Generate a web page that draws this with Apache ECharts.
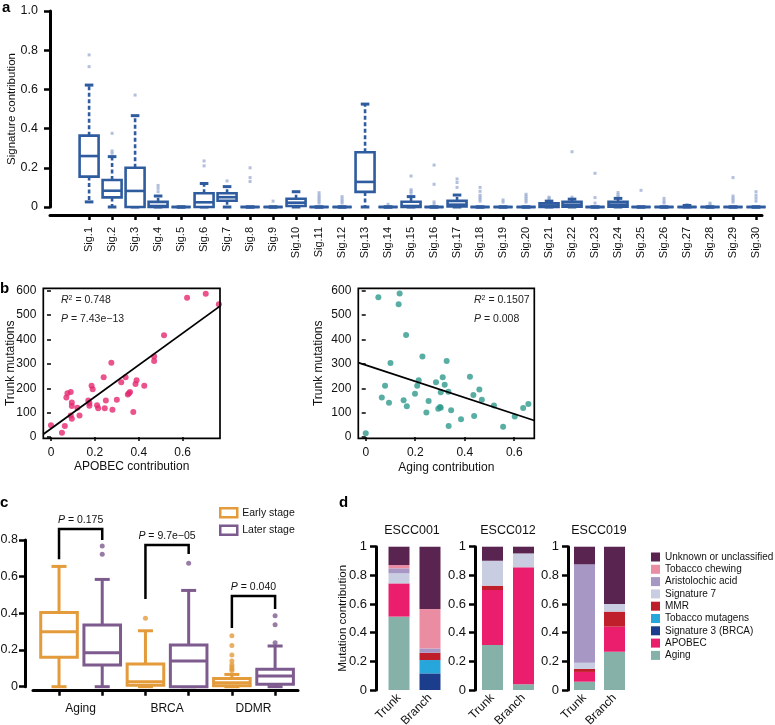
<!DOCTYPE html>
<html><head><meta charset="utf-8">
<script src="https://cdn.jsdelivr.net/npm/echarts@6/dist/echarts.min.js"></script>
<style>html,body{margin:0;padding:0;background:#fff}#c{width:775px;height:725px}</style>
</head><body><div id="c"></div>
<script>
const FONT = '"Liberation Sans", Arial, Helvetica, sans-serif';

// ---------- Panel a ----------
const sigLabels = ['Sig.1','Sig.2','Sig.3','Sig.4','Sig.5','Sig.6','Sig.7','Sig.8','Sig.9','Sig.10',
  'Sig.11','Sig.12','Sig.13','Sig.14','Sig.15','Sig.16','Sig.17','Sig.18','Sig.19','Sig.20',
  'Sig.21','Sig.22','Sig.23','Sig.24','Sig.25','Sig.26','Sig.27','Sig.28','Sig.29','Sig.30'];
const sigPositions = [1,2,3,4,5,6,7,8,9,10,11,12,13,14,15,16,17,18,19,20,21,22,23,24,25,26,27,28,29,30];
// [lower whisker, Q1, median, Q3, upper whisker]
const sigBoxes = [
  [0.026,0.155,0.26,0.364,0.622],[0,0.049,0.083,0.138,0.257],[0,0,0.082,0.2,0.466],[0,0,0.005,0.026,0.056],
  [0,0,0,0,0],[0,0,0.024,0.07,0.12],[0,0.032,0.05,0.07,0.104],[0,0,0,0,0],[0,0,0,0,0],
  [0,0.005,0.022,0.042,0.078],[0,0,0,0,0],[0,0,0,0,0],[0,0.077,0.128,0.279,0.525],[0,0,0,0,0],
  [0,0,0.005,0.027,0.053],[0,0,0,0,0],[0,0.003,0.012,0.031,0.061],[0,0,0,0,0],[0,0,0,0,0],
  [0,0,0,0,0],[0,0,0.008,0.019,0.03],[0,0.002,0.012,0.027,0.04],[0,0,0,0,0],[0,0.002,0.012,0.026,0.044],
  [0,0,0,0,0],[0,0,0,0,0],[0,0,0,0,0.008],[0,0,0,0,0],[0,0,0,0,0],[0,0,0,0,0]
];
const sigOutliers = [
  [1,0.776],[1,0.716],[2,0.376],[2,0.286],[2,0.274],[3,0.571],[4,0.11],[4,0.095],[4,0.078],
  [6,0.235],[6,0.21],[7,0.133],[8,0.2],[8,0.15],[8,0.13],[9,0.03],
  [11,0.073],[11,0.06],[11,0.05],[11,0.04],[11,0.03],[11,0.02],[12,0.053],[12,0.04],[12,0.03],[12,0.02],
  [14,0.014],[15,0.158],[15,0.088],[15,0.08],[15,0.07],[16,0.214],[16,0.116],[16,0.026],[16,0.015],
  [17,0.143],[17,0.125],[17,0.1],[18,0.1],[18,0.08],[18,0.06],[18,0.05],[18,0.04],[18,0.03],
  [19,0.036],[19,0.025],[20,0.065],[20,0.055],[20,0.045],[20,0.035],[20,0.025],
  [21,0.05],[21,0.045],[21,0.04],[22,0.282],[22,0.05],[23,0.172],[23,0.048],[23,0.02],
  [24,0.074],[24,0.062],[24,0.055],[25,0.085],[26,0.044],[26,0.03],[26,0.02],[27,0.012],
  [28,0.02],[28,0.012],[29,0.15],[29,0.056],[29,0.045],[29,0.035],[29,0.025],
  [30,0.078],[30,0.06],[30,0.045],[30,0.03]
];
// the x scale of panel a is shifted so that 0 is not inside its range
const SIG_SHIFT = 10;
const SIG_XMIN = SIG_SHIFT - 0.7, SIG_XMAX = SIG_SHIFT + 30.26;

// ---------- Panel b ----------
const apobecPoints = [[0.00,48],[0.05,18],[0.063,45],[0.07,162],[0.075,180],[0.09,185],[0.095,142],[0.095,127],
  [0.095,75],[0.09,88],[0.12,120],[0.13,88],[0.17,150],[0.175,128],[0.175,140],[0.185,210],[0.19,196],
  [0.21,130],[0.215,118],[0.24,245],[0.245,118],[0.25,150],[0.275,305],[0.28,112],[0.30,153],[0.32,225],
  [0.34,245],[0.35,175],[0.36,185],[0.355,180],[0.375,103],[0.385,218],[0.39,233],[0.425,210],[0.47,330],
  [0.47,312],[0.515,418],[0.62,571],[0.705,588],[0.765,545]];
const apobecFit = [[-0.035,12],[0.77,537]];
const agingPoints = [[0,16],[0.051,573],[0.065,162],[0.078,210],[0.094,141],[0.1,304],[0.133,545],[0.137,589],
  [0.153,151],[0.163,419],[0.166,126],[0.199,178],[0.208,210],[0.214,233],[0.229,330],[0.245,101],[0.254,148],
  [0.284,225],[0.293,116],[0.30,123],[0.303,120],[0.303,184],[0.311,245],[0.319,215],[0.327,312],[0.334,186],
  [0.335,45],[0.345,110],[0.385,73],[0.421,247],[0.435,173],[0.438,86],[0.459,195],[0.469,153],[0.518,129],
  [0.555,42],[0.602,84],[0.636,119],[0.657,136]];
const agingFit = [[-0.03,305],[0.681,68]];
const bYTicks = [0,100,200,300,400,500,600];
const bXTicks = [0,0.2,0.4,0.6];
const bLeftRange = [-0.035,-5,0.77,610];
const bRightRange = [-0.03,-5,0.681,610];

// ---------- Panel c ----------
const cGroups = ['Aging','BRCA','DDMR'];
const cGroupPos = [1.5,3.5,5.5];
const cBoxPos = [1,2,3,4,5,6];
const cEarly = [[1,0,0.16,0.3,0.404,0.656],[3,0,0.008,0.027,0.124,0.305],[5,0,0.005,0.022,0.045,0.067]];
const cLater = [[2,0,0.118,0.185,0.336,0.585],[4,0,0,0.14,0.227,0.525],[6,0,0.013,0.058,0.095,0.222]];
const cEarlyOut = [[3,0.373],[5,0.278],[5,0.224],[5,0.173],[5,0.14],[5,0.12],[5,0.108],[5,0.097],[5,0.088]];
const cLaterOut = [[2,0.722],[2,0.767],[4,0.673],[6,0.387],[6,0.338],[6,0.24]];
// [left pos, right pos, top, left bottom, right bottom]
const cBrackets = [[1,2,0.86,0.695,0.80],[3,4,0.773,0.478,0.724],[5,6,0.495,0.32,0.424]];
const cPValues = ['0.175','9.7e\u221205','0.040'];

// ---------- Panel d ----------
const dSamples = ['ESCC001','ESCC012','ESCC019'];
const dCats = ['Trunk','Branch'];
const dSigNames = ['Aging','APOBEC','Signature 3 (BRCA)','Tobacco mutagens','MMR','Signature 7','Aristolochic acid','Tobacco chewing','Unknown or unclassified'];
const dColors = ['#86b1a9','#eb1e6e','#1c3d8c','#27a6db','#bf1f2b','#c9cde1','#a797c5','#ea8ca2','#5a2450'];
// values per signature: [001T,001B,012T,012B,019T,019B]
const dAging   = [0.512,0,0.314,0.04,0.058,0.267];
const dApobec  = [0.232,0,0.384,0.816,0.068,0.175];
const dSig3    = [0,0.116,0,0,0,0];
const dTobMut  = [0,0.093,0,0,0,0];
const dMMR     = [0,0.051,0.03,0,0.021,0.105];
const dSig7    = [0.07,0,0.174,0.097,0.044,0.053];
const dAristo  = [0.035,0.03,0,0,0.686,0];
const dTobChew = [0.023,0.275,0,0,0,0];
const dUnknown = [0.128,0.435,0.098,0.047,0.123,0.4];
const dValues = [dAging,dApobec,dSig3,dTobMut,dMMR,dSig7,dAristo,dTobChew,dUnknown];

// ---------- helpers ----------
const BLUE = '#2f5c9f', ORANGE = '#e39b3b', PURPLE = '#7e5b8e';
function boxRender(halfW, capHalf, color, lw, capW, dashed) {
  return function (params, api) {
    const x = api.value(0);
    const lo = api.coord([x, api.value(1)]);
    const q1 = api.coord([x, api.value(2)]);
    const md = api.coord([x, api.value(3)]);
    const q3 = api.coord([x, api.value(4)]);
    const hi = api.coord([x, api.value(5)]);
    const cx = lo[0];
    const wls = {stroke: color, lineWidth: lw, lineDash: dashed ? [4, 2.5] : null, fill: null};
    const cap = {stroke: color, lineWidth: capW, fill: null};
    const ch = [];
    if (hi[1] < q3[1] - 0.5) ch.push({type:'line', shape:{x1:cx,y1:q3[1],x2:cx,y2:hi[1]}, style:wls});
    if (lo[1] > q1[1] + 0.5) ch.push({type:'line', shape:{x1:cx,y1:q1[1],x2:cx,y2:lo[1]}, style:wls});
    ch.push({type:'line', shape:{x1:cx-capHalf,y1:hi[1],x2:cx+capHalf,y2:hi[1]}, style:cap});
    ch.push({type:'line', shape:{x1:cx-capHalf,y1:lo[1],x2:cx+capHalf,y2:lo[1]}, style:cap});
    ch.push({type:'rect', shape:{x:cx-halfW,y:q3[1],width:2*halfW,height:Math.max(0,q1[1]-q3[1])},
      style:{stroke:color,lineWidth:lw,fill:'#fff'}});
    ch.push({type:'line', shape:{x1:cx-halfW,y1:md[1],x2:cx+halfW,y2:md[1]}, style:{stroke:color,lineWidth:lw}});
    return {type:'group', children:ch};
  };
}
function frameRender(params, api) {
  const p0 = api.coord([api.value(0), api.value(1)]);
  const p1 = api.coord([api.value(2), api.value(3)]);
  return {type:'rect', shape:{x:p0[0], y:p1[1], width:p1[0]-p0[0], height:p0[1]-p1[1]},
    style:{stroke:'#000', lineWidth:1.7, fill:null}};
}
function fmt1(v){ return v === 0 ? '0' : v.toFixed(1); }
function fmtD(v){ return (v === 0 || v === 1) ? String(v) : v.toFixed(1); }
const txt = (s) => Object.assign({color:'#111', fontFamily:FONT}, s);
const G = (o) => Object.assign({containLabel:false, outerBoundsMode:'none'}, o);
const thickLine = () => ({show:true, onZero:false, lineStyle:{color:'#000', width:3}});
const sigX = sigPositions.map(p => p + SIG_SHIFT);

const grids = [
  G({left:50, width:712, top:11, height:196}),          // 0 a (data)
  G({left:43.3, top:288.3, width:176.7, height:150}),    // 1 b left
  G({left:358.3, top:288.3, width:176, height:150}),     // 2 b right
  G({left:33, width:265, top:540, height:146.7}),        // 3 c
  G({left:383.5, width:62, top:546.7, height:143.3}),    // 4 d1
  G({left:477, width:62, top:546.7, height:143.3}),      // 5 d2
  G({left:569.5, width:60, top:546.7, height:143.3}),    // 6 d3
  G({left:50, width:10, top:11, height:196})             // 7 a (y axis holder)
];

const xAxes = [
  {gridIndex:0, type:'value', min:SIG_XMIN, max:SIG_XMAX, offset:8,
   axisLine:thickLine(),
   axisTick:{customValues:sigX, length:5, lineStyle:{color:'#000', width:2.5}},
   axisLabel:{customValues:sigX, rotate:90, margin:12, formatter:v=>sigLabels[Math.round(v)-SIG_SHIFT-1], ...txt({fontSize:11})},
   splitLine:{show:false}, minorSplitLine:{show:false}},
  {gridIndex:1, type:'value', min:bLeftRange[0], max:bLeftRange[2],
   axisLine:{show:false},
   axisTick:{customValues:bXTicks, length:4, lineStyle:{color:'#000', width:1.5}},
   axisLabel:{customValues:bXTicks, margin:8, formatter:v=>v===0?'0':String(v), ...txt({fontSize:12})},
   splitLine:{show:false},
   name:'APOBEC contribution', nameLocation:'middle', nameGap:22, nameMoveOverlap:false, nameTextStyle:txt({fontSize:12})},
  {gridIndex:2, type:'value', min:bRightRange[0], max:bRightRange[2],
   axisLine:{show:false},
   axisTick:{customValues:bXTicks, length:4, lineStyle:{color:'#000', width:1.5}},
   axisLabel:{customValues:bXTicks, margin:8, formatter:v=>v===0?'0':String(v), ...txt({fontSize:12})},
   splitLine:{show:false},
   name:'Aging contribution', nameLocation:'middle', nameGap:23, nameMoveOverlap:false, nameTextStyle:txt({fontSize:12})},
  {gridIndex:3, type:'value', min:0.398, max:6.53, offset:4,
   axisLine:thickLine(),
   axisTick:{customValues:cBoxPos, length:5, lineStyle:{color:'#000', width:2.5}},
   axisLabel:{customValues:cGroupPos, margin:12, formatter:v=>cGroups[Math.round((v-1.5)/2)], ...txt({fontSize:12})},
   splitLine:{show:false}}
];
const yAxes = [
  {gridIndex:0, type:'value', min:0, max:1, show:false},
  {gridIndex:1, type:'value', min:bLeftRange[1], max:bLeftRange[3],
   axisLine:{show:false},
   axisTick:{customValues:bYTicks, length:4, lineStyle:{color:'#000', width:1.5}},
   axisLabel:{customValues:bYTicks, margin:7, ...txt({fontSize:12})},
   splitLine:{show:false},
   name:'Trunk mutations', nameLocation:'middle', nameGap:27, nameMoveOverlap:false, nameTextStyle:txt({fontSize:12})},
  {gridIndex:2, type:'value', min:bRightRange[1], max:bRightRange[3],
   axisLine:{show:false},
   axisTick:{customValues:bYTicks, length:4, lineStyle:{color:'#000', width:1.5}},
   axisLabel:{customValues:bYTicks, margin:7, ...txt({fontSize:12})},
   splitLine:{show:false},
   name:'Trunk mutations', nameLocation:'middle', nameGap:34, nameMoveOverlap:false, nameTextStyle:txt({fontSize:12})},
  {gridIndex:3, type:'value', min:0, max:0.8, interval:0.2, offset:8,
   axisLine:thickLine(),
   axisTick:{show:true, length:6, lineStyle:{color:'#000', width:2.5}},
   axisLabel:{formatter:fmt1, margin:7, ...txt({fontSize:12.5})},
   splitLine:{show:false}}
];
const dOffsets = [7.5, 2, 1.5];
dSamples.forEach((s, i) => {
  xAxes.push({gridIndex:4+i, type:'category', data:dCats,
    axisLine:{show:false}, axisTick:{show:false},
    axisLabel:{rotate:45, margin:6, interval:0, ...txt({fontSize:12})}});
  yAxes.push({gridIndex:4+i, type:'value', min:0, max:1, interval:0.2, offset:dOffsets[i],
    axisLine:thickLine(),
    axisTick:{show:true, length:6, lineStyle:{color:'#000', width:2.5}},
    axisLabel:{formatter:fmtD, margin:9, ...txt({fontSize:13})},
    splitLine:{show:false},
    name: i===0 ? 'Mutation contribution' : '', nameLocation:'middle', nameGap:27, nameMoveOverlap:false,
    nameTextStyle:txt({fontSize:11.5})});
});
// panel a y axis, held by its own narrow grid (index 7) so it sits exactly at the plot's left edge
xAxes.push({gridIndex:7, type:'category', data:[''], show:false});
yAxes.push({gridIndex:7, type:'value', min:0, max:1, interval:0.2,
   axisLine:thickLine(),
   axisTick:{show:true, length:6, lineStyle:{color:'#000', width:2.5}},
   axisLabel:{formatter:fmt1, margin:12, ...txt({fontSize:12.5})},
   splitLine:{show:false},
   name:'Signature contribution', nameLocation:'middle', nameGap:32, nameMoveOverlap:false, nameTextStyle:txt({fontSize:11.5})});

const series = [];
series.push({type:'custom', xAxisIndex:0, yAxisIndex:0, clip:false,
  renderItem: boxRender(9.5, 4.3, BLUE, 2.6, 3, true),
  encode:{x:0, y:[1,2,3,4,5]},
  data: sigBoxes.map((b,i)=>[sigX[i]].concat(b)), z:3});
series.push({type:'scatter', xAxisIndex:0, yAxisIndex:0, symbol:'rect', symbolSize:3,
  itemStyle:{color:'#9fb0d4'}, data:sigOutliers.map(o=>[o[0]+SIG_SHIFT, o[1]]), z:2});
// panel b frames
series.push({type:'custom', xAxisIndex:1, yAxisIndex:1, clip:false, renderItem:frameRender,
  encode:{x:[0,2], y:[1,3]}, data:[bLeftRange], z:5, silent:true});
series.push({type:'custom', xAxisIndex:2, yAxisIndex:2, clip:false, renderItem:frameRender,
  encode:{x:[0,2], y:[1,3]}, data:[bRightRange], z:5, silent:true});
series.push({type:'scatter', xAxisIndex:1, yAxisIndex:1, symbolSize:6, itemStyle:{color:'#e5286f'}, data:apobecPoints, clip:false});
series.push({type:'line', xAxisIndex:1, yAxisIndex:1, symbol:'none', lineStyle:{color:'#000', width:1.8}, data:apobecFit, z:3});
series.push({type:'scatter', xAxisIndex:2, yAxisIndex:2, symbolSize:6, itemStyle:{color:'#2f9a8d'}, data:agingPoints, clip:false});
series.push({type:'line', xAxisIndex:2, yAxisIndex:2, symbol:'none', lineStyle:{color:'#000', width:1.8}, data:agingFit, z:3});
// panel c
series.push({type:'custom', name:'Early stage', xAxisIndex:3, yAxisIndex:3, clip:false, itemStyle:{color:ORANGE},
  renderItem: boxRender(18.3, 7.5, ORANGE, 3, 3, false), encode:{x:0, y:[1,2,3,4,5]}, data:cEarly});
series.push({type:'custom', name:'Later stage', xAxisIndex:3, yAxisIndex:3, clip:false, itemStyle:{color:PURPLE},
  renderItem: boxRender(18.3, 7.5, PURPLE, 3, 3, false), encode:{x:0, y:[1,2,3,4,5]}, data:cLater});
series.push({type:'scatter', xAxisIndex:3, yAxisIndex:3, symbolSize:5, itemStyle:{color:ORANGE}, data:cEarlyOut, clip:false});
series.push({type:'scatter', xAxisIndex:3, yAxisIndex:3, symbolSize:5, itemStyle:{color:PURPLE}, data:cLaterOut, clip:false});
series.push({type:'custom', xAxisIndex:3, yAxisIndex:3, clip:false, encode:{x:[0,1], y:[2,3,4]},
  data: cBrackets,
  renderItem: function(params, api){
    const a = api.coord([api.value(0), api.value(2)]);
    const b = api.coord([api.value(1), api.value(2)]);
    const lb = api.coord([api.value(0), api.value(3)]);
    const rb = api.coord([api.value(1), api.value(4)]);
    return {type:'group', children:[
      {type:'polyline', shape:{points:[[lb[0],lb[1]],[a[0],a[1]],[b[0],b[1]],[rb[0],rb[1]]]},
       style:{stroke:'#000', lineWidth:2.5, fill:null}},
      {type:'text', style:{text:'{i|P} = ' + cPValues[params.dataIndex], x:(a[0]+b[0])/2, y:a[1]-3,
        align:'center', verticalAlign:'bottom', fontSize:10.5, fontFamily:FONT, fill:'#111',
        rich:{i:{fontStyle:'italic', fontSize:10.5, fontFamily:FONT, fill:'#111'}}}}
    ]};
  }});
// panel d
dSamples.forEach((s, gi) => {
  dSigNames.forEach((name, si) => {
    series.push({type:'bar', name:name, xAxisIndex:4+gi, yAxisIndex:4+gi, stack:'d'+gi,
      barWidth:21, itemStyle:{color:dColors[si]},
      data:dValues[si].slice(gi*2, gi*2+2)});
  });
});

const option = {
  animation:false,
  backgroundColor:'#fff',
  textStyle:{fontFamily:FONT},
  grid:grids, xAxis:xAxes, yAxis:yAxes, series:series,
  legend:[
    {data:[{name:'Early stage', icon:'rect', itemStyle:{color:'#fff', borderColor:ORANGE, borderWidth:2.5}},
           {name:'Later stage', icon:'rect', itemStyle:{color:'#fff', borderColor:PURPLE, borderWidth:2.5}}],
     orient:'vertical', left:214, top:502, itemWidth:17, itemHeight:9, itemGap:6, selectedMode:false,
     textStyle:txt({fontSize:10.5})},
    {data:dSigNames.slice().reverse(), orient:'vertical', left:651, top:552, padding:0, itemWidth:9, itemHeight:9, itemGap:2.3,
     icon:'rect', selectedMode:false, textStyle:txt({fontSize:10})}
  ],
  graphic:[
    {type:'text', left:2, top:0, style:{text:'a', font:'bold 15px '+FONT, fill:'#000'}},
    {type:'text', left:0, top:281, style:{text:'b', font:'bold 15px '+FONT, fill:'#000'}},
    {type:'text', left:0, top:495, style:{text:'c', font:'bold 15px '+FONT, fill:'#000'}},
    {type:'text', left:339, top:495, style:{text:'d', font:'bold 15px '+FONT, fill:'#000'}},
    {type:'text', left:61, top:295, style:{text:'{i|R}{s|2} = 0.748', fontSize:10.5, fontFamily:FONT, fill:'#222',
      rich:{i:{fontStyle:'italic', fontSize:10.5, fontFamily:FONT}, s:{fontSize:7, verticalAlign:'top', fontFamily:FONT}}}},
    {type:'text', left:61, top:314, style:{text:'{i|P} = 7.43e\u221213', fontSize:10.5, fontFamily:FONT, fill:'#222',
      rich:{i:{fontStyle:'italic', fontSize:10.5, fontFamily:FONT}}}},
    {type:'text', left:474, top:295, style:{text:'{i|R}{s|2} = 0.1507', fontSize:10.5, fontFamily:FONT, fill:'#222',
      rich:{i:{fontStyle:'italic', fontSize:10.5, fontFamily:FONT}, s:{fontSize:7, verticalAlign:'top', fontFamily:FONT}}}},
    {type:'text', left:474, top:314, style:{text:'{i|P} = 0.008', fontSize:10.5, fontFamily:FONT, fill:'#222',
      rich:{i:{fontStyle:'italic', fontSize:10.5, fontFamily:FONT}}}},
    {type:'text', x:412, y:531, style:{text:dSamples[0], fontSize:12.5, fontFamily:FONT, fill:'#111', align:'center', verticalAlign:'middle'}},
    {type:'text', x:508, y:531, style:{text:dSamples[1], fontSize:12.5, fontFamily:FONT, fill:'#111', align:'center', verticalAlign:'middle'}},
    {type:'text', x:599, y:531, style:{text:dSamples[2], fontSize:12.5, fontFamily:FONT, fill:'#111', align:'center', verticalAlign:'middle'}}
  ]
};
const chart = echarts.init(document.getElementById('c'));
chart.setOption(option);
</script></body></html>
